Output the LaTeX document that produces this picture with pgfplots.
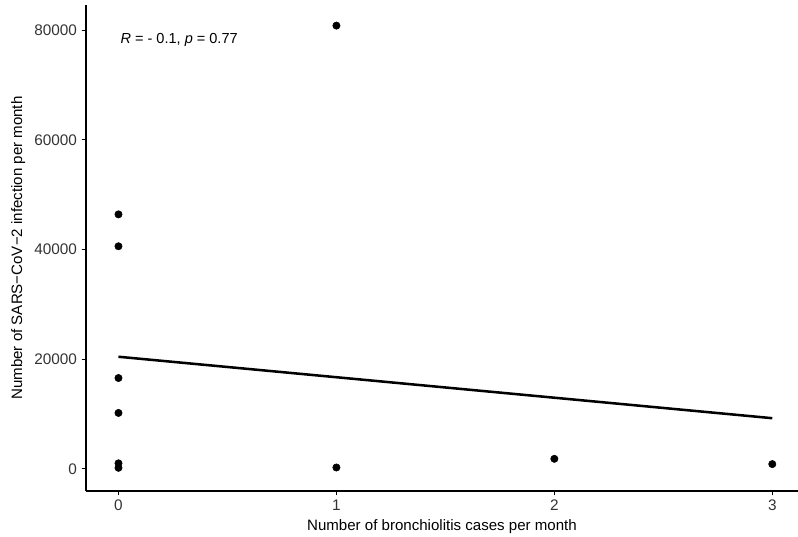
\documentclass[border=0pt]{standalone}
\usepackage{pgfplots}
\pgfplotsset{compat=1.18}
\usepackage{fontspec}
\setmainfont{Liberation Sans}
\begin{document}
\begin{tikzpicture}
\begin{axis}[
  at={(64.5pt,33.75pt)}, anchor=south west,
  scale only axis, width=534pt, height=364.5pt,
  xmin=-0.149, xmax=3.118,
  ymin=-4050, ymax=84600,
  axis x line*=bottom, axis y line*=left,
  axis line style={line width=0.8pt,-},
  xtick={0,1,2,3}, ytick={0,20000,40000,60000,80000},
  tick align=outside, major tick length=3.2pt,
  tick style={line width=0.7pt, black},
  /pgf/number format/assume math mode=true,
  scaled y ticks=false,
  yticklabel style={/pgf/number format/fixed, /pgf/number format/1000 sep={}, font=\fontsize{11.5}{13}\selectfont, text=black!80},
  xticklabel style={font=\fontsize{11.5}{13}\selectfont, text=black!80},
  xlabel={Number of bronchiolitis cases per month},
  ylabel={Number of SARS−CoV−2 infection per month},
  label style={font=\fontsize{11.3}{13}\selectfont},
  clip=false,
]
\addplot[only marks, mark=*, mark size=2.75pt, black] coordinates {
  (0,46410) (0,40590) (0,16560) (0,10190) (0,1000) (0,180)
  (1,80840) (1,240) (2,1820) (3,860)
};
\addplot[black, line width=1.9pt] coordinates {(0,20440) (3,9230)};
\node[anchor=west, font=\fontsize{10.9}{12}\selectfont] at (axis cs:-0.012,78300) {\textit{R} = - 0.1, \textit{p} = 0.77};
\end{axis}
\pgfresetboundingbox
\path (0,0) rectangle (598.5pt,402pt);
\end{tikzpicture}
\end{document}
